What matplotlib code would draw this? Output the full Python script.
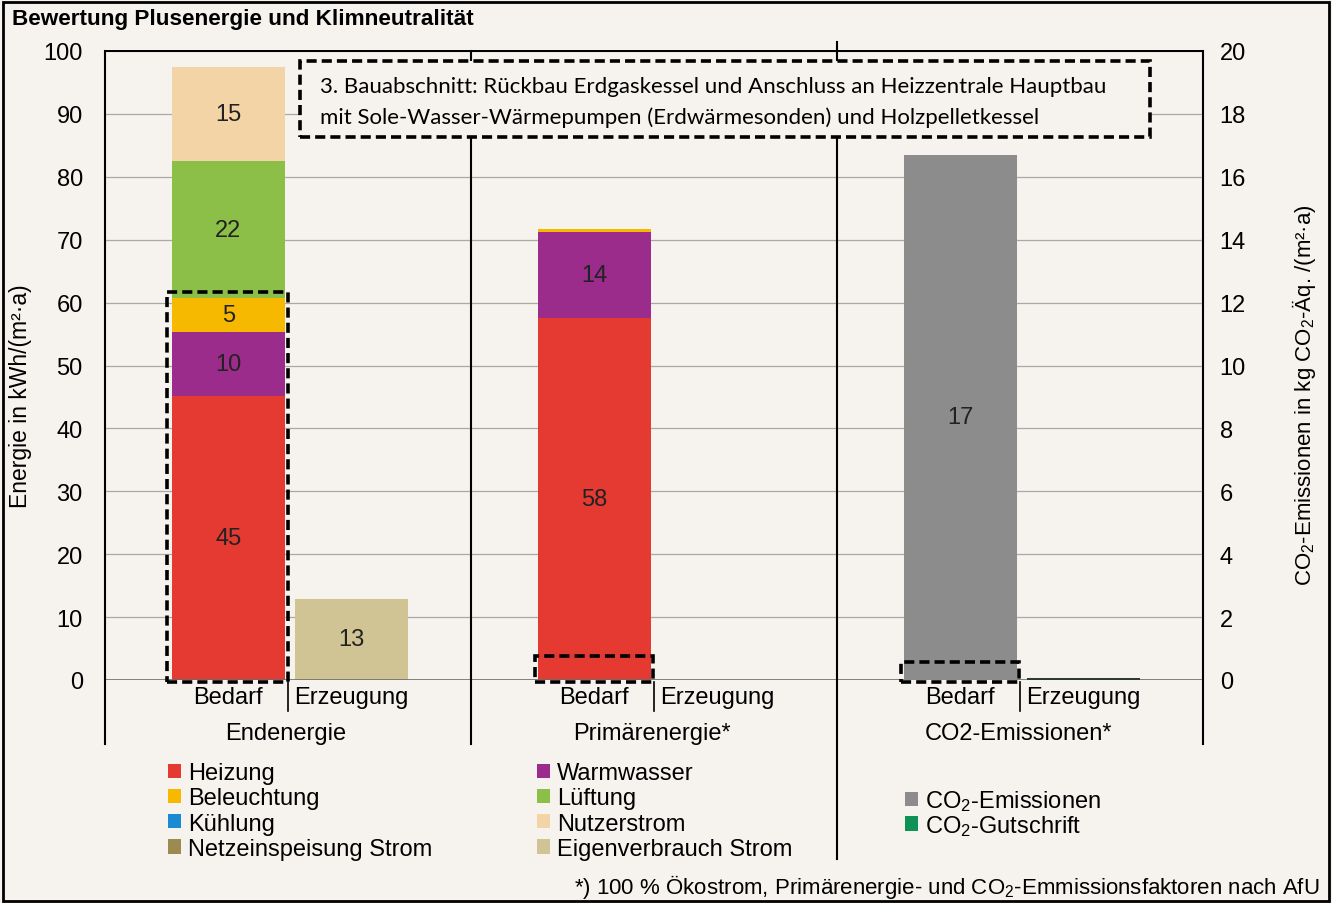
import matplotlib
matplotlib.use('Agg')
import matplotlib.pyplot as plt
from matplotlib.patches import Rectangle

plt.rcParams['font.family'] = ['Liberation Sans', 'DejaVu Sans']
plt.rcParams['mathtext.fontset'] = 'custom'
plt.rcParams['mathtext.rm'] = 'Liberation Sans'
plt.rcParams['mathtext.it'] = 'Liberation Sans:italic'

groups = ['Endenergie', 'Primärenergie*', 'CO2-Emissionen*']
subcats = ['Bedarf', 'Erzeugung']

# Bedarf, kWh/(m²a): [Endenergie, Primärenergie]
heizung = [45.1, 57.6]
warmwasser = [10.2, 13.6]
beleuchtung = [5.4, 0.5]
kuehlung = [0.0, 0.0]
lueftung = [21.8, 0.0]
nutzerstrom = [14.9, 0.0]
# Erzeugung, kWh/(m²a)
netzeinspeisung = [0.0, 0.0]
eigenverbrauch = [12.9, 0.0]
# CO2, kg CO2-Äq./(m²a)
co2_emissionen = [16.7]
co2_gutschrift = [0.05]

FS = 17
bg = '#f6f3ee'
W, H = 1332, 904
fig = plt.figure(figsize=(W / 100, H / 100), dpi=100, facecolor=bg)
ax = fig.add_axes([105 / W, 1 - 681 / H, 1098 / W, 629 / H])
ax.set_facecolor(bg)
ax2 = ax.twinx()

bw = 0.31
off_b, off_e = -0.163, 0.173
centers = [0.5, 1.5, 2.5]

stack = [('Heizung', heizung, '#e53a32'),
         ('Warmwasser', warmwasser, '#9b2c8c'),
         ('Beleuchtung', beleuchtung, '#f7b900'),
         ('Kühlung', kuehlung, '#1a8bd3'),
         ('Lüftung', lueftung, '#8cbf48'),
         ('Nutzerstrom', nutzerstrom, '#f3d4a6')]

handles = {}
xb = [c + off_b for c in centers[:2]]
bottom = [0.0, 0.0]
for name, vals, col in stack:
    bars = ax.bar(xb, vals, bw, bottom=bottom, color=col, lw=0, zorder=3)
    handles[name] = bars
    for x, v, b in zip(xb, vals, bottom):
        if v >= 2:
            ax.text(x, b + v / 2, '%d' % round(v), ha='center', va='center',
                    fontsize=FS, color='#222222', zorder=5)
    bottom = [b + v for b, v in zip(bottom, vals)]

xe = [c + off_e for c in centers[:2]]
handles['Netzeinspeisung Strom'] = ax.bar(xe, netzeinspeisung, bw, color='#9c8b50', lw=0, zorder=3)
handles['Eigenverbrauch Strom'] = ax.bar(xe, eigenverbrauch, bw, bottom=netzeinspeisung,
                                         color='#d0c394', lw=0, zorder=3)
for x, v, b in zip(xe, eigenverbrauch, netzeinspeisung):
    if v >= 2:
        ax.text(x, b + v / 2, '%d' % round(v), ha='center', va='center',
                fontsize=FS, color='#222222', zorder=5)

handles['co2'] = ax2.bar([centers[2] + off_b], co2_emissionen, bw, color='#8c8c8c', lw=0, zorder=3)
handles['gut'] = ax2.bar([centers[2] + off_e], co2_gutschrift, bw, color='#2f3833', lw=0, zorder=3)
ax2.text(centers[2] + off_b, co2_emissionen[0] / 2, '%d' % round(co2_emissionen[0]),
         ha='center', va='center', fontsize=FS, color='#222222', zorder=5)

ax.set_xlim(0, 3)
ax.set_ylim(0, 100)
ax2.set_ylim(0, 20)
ax.set_yticks(range(0, 101, 10))
ax2.set_yticks(range(0, 21, 2))
ax.set_xticks([])
ax.yaxis.grid(True, color='#a9a9a9', lw=0.9, zorder=0)
ax.set_axisbelow(True)
ax.tick_params(length=0, labelsize=FS, pad=16)
ax2.tick_params(length=0, labelsize=FS, pad=12)
for a in (ax, ax2):
    for s in ('left', 'right', 'bottom'):
        a.spines[s].set_visible(False)
    a.spines['top'].set_color('black')
    a.spines['top'].set_linewidth(1.3)
ax.axhline(0, color='#6e6e6e', lw=1.2, zorder=4)

ax.set_ylabel('Energie in kWh/(m²·a)', fontsize=16.5)
ax.yaxis.set_label_coords(-0.0665, 0.453)
ax2.set_ylabel(r'CO$_2$-Emissionen in kg CO$_2$-Äq. /(m²·a)', fontsize=16)
ax2.yaxis.set_label_coords(1.079, 0.455)

# multi-level category axis
tx = ax.get_xaxis_transform()
for x, lo, hi in [(0, -0.102, 1), (1, -0.102, 1), (2, -0.285, 1.014), (3, -0.102, 1)]:
    ax.plot([x, x], [lo, hi], color='black', lw=1.5, transform=tx, clip_on=False, zorder=6)
for c, g in zip(centers, groups):
    ax.plot([c, c], [-0.003, -0.049], color='black', lw=1.2, transform=tx, clip_on=False)
    ax.text(c + off_b, -0.027, subcats[0], ha='center', va='center', fontsize=FS, transform=tx)
    ax.text(c + off_e, -0.027, subcats[1], ha='center', va='center', fontsize=FS, transform=tx)
    ax.text(c - 0.005, -0.085, g, ha='center', va='center', fontsize=FS, transform=tx)

# dashed highlight boxes
dash = dict(fill=False, ec='black', lw=2.6, ls=(0, (2.8, 1.4)), zorder=7, clip_on=False)
top3 = heizung[0] + warmwasser[0] + beleuchtung[0]
ax.add_patch(Rectangle((xb[0] - bw / 2 - 0.013, -0.3), bw + 0.02, top3 + 1.3, **dash))
ax.add_patch(Rectangle((xb[1] - bw / 2 - 0.008, -0.3), bw + 0.012, 4.1, **dash))
ax2.add_patch(Rectangle((centers[2] + off_b - bw / 2 - 0.006, -0.06), bw + 0.012, 0.64, **dash))

# note box
ax.add_patch(Rectangle((0.1776, 0.8633), 0.7741, 0.1207, transform=ax.transAxes,
                       fc=bg, ec='black', lw=2.6, ls=(0, (2.8, 1.4)), zorder=8, clip_on=False))
ax.text(0.1958, 0.944, '3. Bauabschnitt: Rückbau Erdgaskessel und Anschluss an Heizzentrale Hauptbau',
        transform=ax.transAxes, family='Lato', fontsize=16, va='center', zorder=9)
ax.text(0.1958, 0.896, 'mit Sole-Wasser-Wärmepumpen (Erdwärmesonden) und Holzpelletkessel',
        transform=ax.transAxes, family='Lato', fontsize=16, va='center', zorder=9)

# legends
lkw = dict(frameon=False, fontsize=FS, handlelength=0.55, handleheight=0.55, handletextpad=0.3,
           labelspacing=0.14, borderpad=0, borderaxespad=0, loc='upper left')
col1 = ['Heizung', 'Beleuchtung', 'Kühlung', 'Netzeinspeisung Strom']
col2 = ['Warmwasser', 'Lüftung', 'Nutzerstrom', 'Eigenverbrauch Strom']
fig.legend([handles[k] for k in col1], col1, bbox_to_anchor=(168 / W, 1 - 763 / H), **lkw)
fig.legend([handles[k] for k in col2], col2, bbox_to_anchor=(537 / W, 1 - 763 / H), **lkw)
fig.legend([handles['co2'], handles['gut']], [r'CO$_2$-Emissionen', r'CO$_2$-Gutschrift'],
           bbox_to_anchor=(905 / W, 1 - 789 / H), labelspacing=0.0,
           **{k: v for k, v in lkw.items() if k != 'labelspacing'})
fig.legends[-1].legend_handles[1].set_color('#0f9255')

fig.text(12 / W, 1 - 20 / H, 'Bewertung Plusenergie und Klimneutralität', weight='bold',
         fontsize=16.2, va='center')
fig.text(1320 / W, 1 - 887 / H,
         r'*) 100 % Ökostrom, Primärenergie- und CO$_2$-Emmissionsfaktoren nach AfU',
         ha='right', va='center', fontsize=16)
fig.add_artist(Rectangle((3 / W, 2 / H), 1326 / W, 899 / H, transform=fig.transFigure,
                         fill=False, ec='black', lw=2))

fig.savefig('out.png', dpi=100, facecolor=bg)
